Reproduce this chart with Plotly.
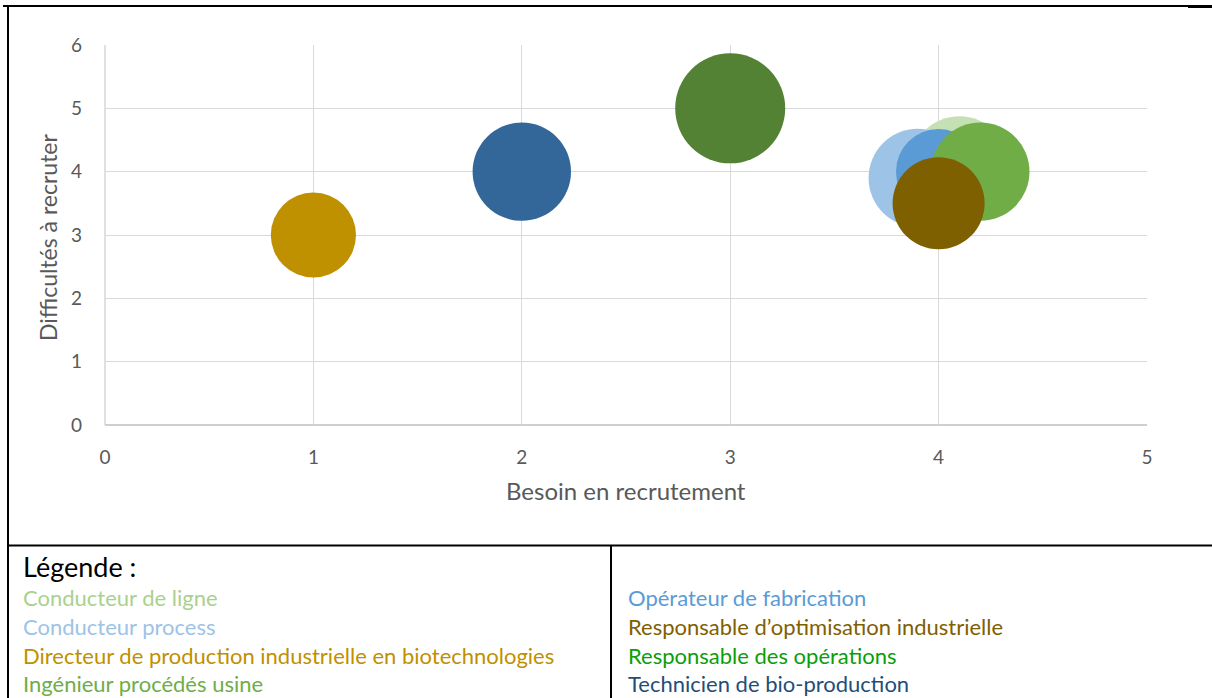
import plotly.graph_objects as go

# ---- data ----
metiers = [
    "Conducteur de ligne",
    "Conducteur process",
    "Directeur de production industrielle en biotechnologies",
    "Ingénieur procédés usine",
    "Opérateur de fabrication",
    "Responsable d’optimisation industrielle",
    "Responsable des opérations",
    "Technicien de bio-production",
]
besoin = [4.1, 3.9, 1, 4.2, 4, 4, 3, 2]
difficulte = [4.1, 3.9, 3, 4, 4, 3.5, 5, 4]
taille = [4, 4, 3, 4, 3, 3.5, 5, 4]
couleurs_bulles = ["#C5E0B4", "#9DC3E6", "#BF9000", "#70AD47", "#5B9BD5", "#7F6000", "#548235", "#336699"]
couleurs_texte = ["#A9D18E", "#9DC3E6", "#BF9000", "#70AD47", "#5B9BD5", "#7F6000", "#0A9E0A", "#1F4E79"]
ordre_trace = [0, 1, 2, 4, 3, 5, 6, 7]
x_ticks = [0, 1, 2, 3, 4, 5]
y_ticks = [0, 1, 2, 3, 4, 5, 6]

W, H = 1212, 698
FONT = "Lato, 'Open Sans', sans-serif"
D_MAX = 110
sizeref = 2.0 * max(taille) / (D_MAX ** 2)

fig = go.Figure()
for i in ordre_trace:
    fig.add_trace(go.Scatter(
        x=[besoin[i]], y=[difficulte[i]], mode="markers", name=metiers[i],
        marker=dict(size=[taille[i]], sizemode="area", sizeref=sizeref,
                    color=couleurs_bulles[i], opacity=1, line=dict(width=0)),
        showlegend=False, hoverinfo="skip",
    ))

def px(v):
    return v / W

def py(v):
    return 1 - v / H

x0, x1 = 105, 1147
y0, y1 = 425, 45

fig.update_layout(
    width=W, height=H,
    margin=dict(l=0, r=0, t=0, b=0, pad=0, autoexpand=False),
    paper_bgcolor="white", plot_bgcolor="white",
    font=dict(family=FONT, color="#595959"),
    showlegend=False,
    xaxis=dict(domain=[px(x0), px(x1)], range=[0, 5], tickvals=x_ticks, automargin=False,
               showgrid=True, gridcolor="#D9D9D9", gridwidth=1.3,
               zeroline=False, showline=False, ticks="", ticklabelstandoff=19,
               tickfont=dict(size=19, color="#595959", family=FONT),
               fixedrange=True),
    yaxis=dict(domain=[py(y0), py(y1)], range=[0, 6], tickvals=y_ticks, automargin=False,
               showgrid=True, gridcolor="#D9D9D9", gridwidth=1.3,
               zeroline=False, showline=False, ticks="", ticklabelstandoff=22,
               tickfont=dict(size=19, color="#595959", family=FONT),
               fixedrange=True),
)

# axis lines (bottom and left) slightly darker
fig.add_shape(type="line", xref="paper", yref="paper", x0=px(x0), x1=px(x1), y0=py(y0), y1=py(y0),
              line=dict(color="#BFBFBF", width=1.3), layer="below")
fig.add_shape(type="line", xref="paper", yref="paper", x0=px(x0), x1=px(x0), y0=py(y0), y1=py(y1),
              line=dict(color="#D0D0D0", width=1.3), layer="below")

# axis titles
fig.add_annotation(text="Besoin en recrutement", xref="paper", yref="paper",
                   x=px((x0 + x1) / 2), y=py(490), showarrow=False,
                   font=dict(size=24, color="#595959", family=FONT), xanchor="center", yanchor="middle")
fig.add_annotation(text="Difficultés à recruter", xref="paper", yref="paper",
                   x=px(48), y=py(238), showarrow=False, textangle=-90,
                   font=dict(size=23, color="#595959", family=FONT), xanchor="center", yanchor="middle")

# table frame
blk = dict(color="black", width=2)
fig.add_shape(type="line", xref="paper", yref="paper", x0=px(3), x1=px(1188), y0=py(6), y1=py(6), line=blk)
fig.add_shape(type="line", xref="paper", yref="paper", x0=px(1188), x1=px(1212), y0=py(6.5), y1=py(6.5),
              line=dict(color="black", width=3))
fig.add_shape(type="line", xref="paper", yref="paper", x0=px(8), x1=px(8), y0=py(5), y1=py(698), line=blk)
fig.add_shape(type="line", xref="paper", yref="paper", x0=px(7), x1=px(1212), y0=py(545.5), y1=py(545.5), line=blk)
fig.add_shape(type="line", xref="paper", yref="paper", x0=px(611), x1=px(611), y0=py(545), y1=py(698), line=blk)

# legend table
fig.add_annotation(text="Légende :", xref="paper", yref="paper", x=px(21), y=py(566),
                   showarrow=False, xanchor="left", yanchor="middle",
                   font=dict(size=27, color="black", family=FONT))
rows_y = [597, 626, 655, 683]
for k, i in enumerate(range(len(metiers))):
    col_x = 21 if k < 4 else 626
    ry = rows_y[k % 4]
    fig.add_annotation(text=metiers[i], xref="paper", yref="paper", x=px(col_x), y=py(ry),
                       showarrow=False, xanchor="left", yanchor="middle",
                       font=dict(size=22, color=couleurs_texte[i], family=FONT))

fig.write_html("out.html", config={"displayModeBar": False},
               post_script="document.body.style.margin='0';document.body.style.overflow='hidden';")
